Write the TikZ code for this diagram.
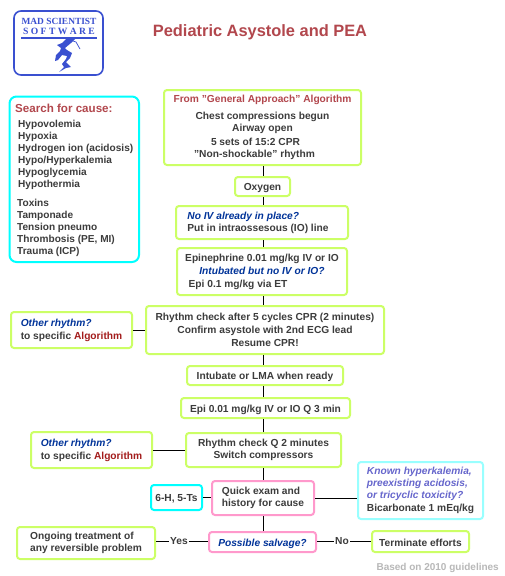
\documentclass[tikz,border=0pt]{standalone}
\usepackage{fontspec}
\setmainfont{Liberation Sans}
\newfontfamily\logofont{Liberation Serif}
\definecolor{grn}{HTML}{CCFF66}
\definecolor{pnk}{HTML}{FF99CC}
\definecolor{cyn}{HTML}{00FFFF}
\definecolor{lcyn}{HTML}{99FFFF}
\definecolor{ink}{HTML}{3C3C3C}
\definecolor{ttl}{HTML}{B2474D}
\definecolor{qblue}{HTML}{003399}
\definecolor{alg}{HTML}{A31C1C}
\definecolor{kn}{HTML}{6666CC}
\definecolor{logob}{HTML}{3A50D0}
\newcommand{\Q}[1]{\textcolor{qblue}{\itshape #1}}
\newcommand{\A}[1]{\textcolor{alg}{#1}}
\newcommand{\K}[1]{\textcolor{kn}{\itshape #1}}
\newcommand{\bx}[7]{\node[#1,minimum width=#4-#3,minimum height=#6-#5,#2] (#7) at ({(#3+#4)/2},{(#5+#6)/2})}
\tikzset{
  x=1pt,y=-1pt,
  base/.style={draw,line width=2pt,rounded corners=3pt,inner sep=0pt,text=ink,font=\fontsize{10.2}{12}\selectfont\bfseries,align=center,execute at begin node={\rule{0pt}{10.5pt}}},
  gbox/.style={base,draw=grn},
  pbox/.style={base,draw=pnk},
  cbox/.style={base,draw=cyn},
  lbox/.style={base,draw=lcyn},
  link/.style={draw=black,line width=1pt},
  lab/.style={inner sep=0pt,text=ink,font=\fontsize{10.2}{12}\selectfont\bfseries}
}
\begin{document}
\begin{tikzpicture}
\useasboundingbox (0,0) rectangle (504,576);
\fill[white] (0,0) rectangle (504,576);
\coordinate (spine) at (263,0);
% logo
\bx{base}{draw=logob,line width=1.6pt,rounded corners=7pt}{14}{103}{11}{75}{logo} {};
\node[inner sep=0pt,text=logob,font=\logofont\bfseries\fontsize{9.4}{10}\selectfont] (logoa) at (59,21) {MAD SCIENTIST};
\node[inner sep=0pt,text=logob,font=\logofont\bfseries\fontsize{9.6}{10}\selectfont] (logob) at (59,31) {S O F T W A R E};
\draw[logob,line width=1.8pt] (21,38) -- (97,38);
\fill[logob] (67,38) -- (76,38) -- (71,43) -- (65,48) -- (67,50) -- (72,53) -- (70,58) -- (66,62) -- (71,67) -- (66,68) -- (59,72) -- (64,67) -- (62,64) -- (66,59) -- (67,56) -- (62,55) -- (58,60) -- (55,61) -- (56,55) -- (60,51) -- (61,48) -- (57,45) -- (62,43) -- cycle;
\draw[logob,line width=.7pt] (73,41) -- (76,42) -- (80,49);
% title
\node[inner sep=0pt,text=ttl,font=\fontsize{16.4}{18}\selectfont\bfseries] (title) at (260,32) {Pediatric Asystole and PEA};
% search box
\bx{cbox}{rounded corners=7pt}{9.5}{139}{96.5}{262}{search} {};
\node[lab,text=ttl,font=\fontsize{11.6}{13}\selectfont\bfseries,anchor=west] (sh) at (15,108) {Search for cause:};
\node[lab,anchor=north west,align=left,font=\fontsize{10.1}{12}\selectfont\bfseries] (sa) at (18,119.5) {Hypovolemia\\Hypoxia\\Hydrogen ion (acidosis)\\Hypo/Hyperkalemia\\Hypoglycemia\\Hypothermia};
\node[lab,anchor=north west,align=left,font=\fontsize{10.1}{12}\selectfont\bfseries] (sb) at (17,198.5) {Toxins\\Tamponade\\Tension pneumo\\Thrombosis (PE, MI)\\Trauma (ICP)};
% main column
\bx{gbox}{}{164}{361}{90}{165}{from} {\textcolor{ttl}{From "General Approach" Algorithm}\\[5pt]Chest compressions begun\\Airway open\\[2pt]\hspace*{-14pt}5 sets of 15:2 CPR\\\hspace*{-16pt}"Non-shockable" rhythm};
\bx{gbox}{}{235}{290}{177}{196}{oxy} {Oxygen};
\bx{gbox}{align=left}{176}{348}{206}{239}{noiv} {\Q{No IV already in place?}\\Put in intraossesous (IO) line\hspace*{8pt}};
\bx{gbox}{}{177}{347}{248}{295}{epi} {Epinephrine 0.01 mg/kg IV or IO\\[1pt]\Q{Intubated but no IV or IO?}\hspace*{28pt}\\[1pt]Epi 0.1 mg/kg via ET\hspace*{48pt}};
\bx{gbox}{}{146}{384}{306}{354}{rc} {Rhythm check after 5 cycles CPR (2 minutes)\\[1pt]Confirm asystole with 2nd ECG lead\\[1pt]Resume CPR!};
\bx{gbox}{}{187}{343}{366}{385}{intub} {Intubate or LMA when ready};
\bx{gbox}{}{181}{350}{398}{418}{epib} {Epi 0.01 mg/kg IV or IO Q 3 min};
\bx{gbox}{}{186}{341}{433}{467}{rcb} {Rhythm check Q 2 minutes\\Switch compressors};
\bx{pbox}{align=left}{212}{314}{481}{515}{quick} {Quick exam and\\history for cause};
\bx{pbox}{}{209}{316}{532}{552}{salv} {\Q{Possible salvage?}};
% side boxes
\bx{gbox}{align=left}{11}{132}{312}{348}{oa} {\Q{Other rhythm?}\\[1pt]to specific \A{Algorithm}};
\bx{gbox}{align=left}{31}{152}{432}{468}{ob} {\Q{Other rhythm?}\\[1pt]to specific \A{Algorithm}};
\bx{cbox}{}{151}{202}{485}{510}{six} {6-H, 5-Ts};
\bx{lbox}{align=left}{358}{483}{462}{519}{known} {\K{Known hyperkalemia,}\\\K{preexisting acidosis,}\\\K{or tricyclic toxicity?}\\[1pt]Bicarbonate 1 mEq/kg};
\bx{gbox}{align=left}{17}{155}{527}{559}{ongoing} {Ongoing treatment of\\any reversible problem};
\bx{gbox}{}{372}{469}{531}{552}{term} {Terminate efforts};
% connectors
\foreach \a/\b in {from/oxy,oxy/noiv,noiv/epi,epi/rc,rc/intub,intub/epib,epib/rcb,rcb/quick,quick/salv}
  \draw[link] (\a.south -| spine) -- (\b.north -| spine);
\draw[link] (oa.east) -- (oa.east -| rc.west);
\draw[link] (ob.east) -- (ob.east -| rcb.west);
\draw[link] (six.east) -- (six.east -| quick.west);
\draw[link] (quick.east) -- (quick.east -| known.west);
\node[lab,fill=white,inner xsep=1pt] (yes) at (179,541) {Yes};
\node[lab,fill=white,inner xsep=1pt] (no) at (342,541) {No};
\draw[link] (ongoing.east |- yes) -- (yes);
\draw[link] (yes) -- (salv.west |- yes);
\draw[link] (salv.east |- no) -- (no);
\draw[link] (no) -- (term.west |- no);
\node[inner sep=0pt,text=black!28,font=\fontsize{10}{12}\selectfont\bfseries,anchor=east] (based) at (499,568) {Based on 2010 guidelines};
\end{tikzpicture}
\end{document}
